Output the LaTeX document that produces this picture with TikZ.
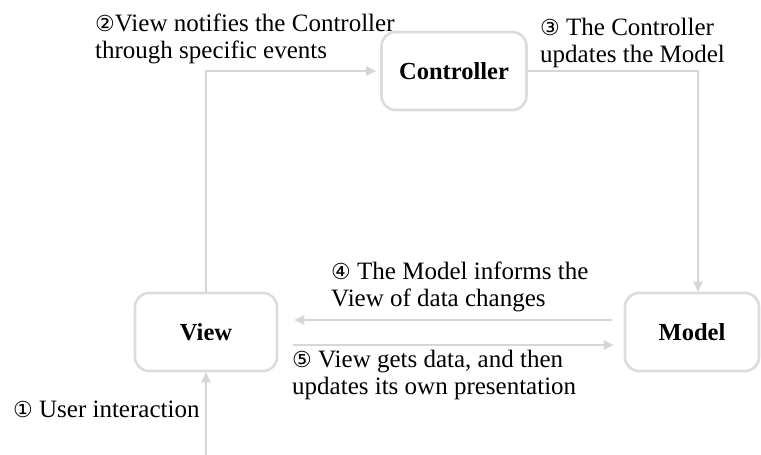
\documentclass[tikz,border=0pt]{standalone}
\usepackage{fontspec}
\setmainfont{Liberation Serif}
\newfontfamily\numfont{DejaVu Sans}
\usetikzlibrary{arrows.meta}
\definecolor{mvcLinea}{RGB}{214,214,214}
\definecolor{mvcBorde}{RGB}{220,220,220}
\newcommand{\paso}[1]{{\numfont\fontsize{22}{22}\selectfont #1}}

\begin{document}
\begin{tikzpicture}[x=1pt, y=-1pt,
     caja/.style={rectangle, rounded corners=14pt, draw=mvcBorde, line width=2.6pt,
                  fill=white, minimum width=142pt, minimum height=78pt,
                  font=\fontsize{24.5}{27}\selectfont\bfseries},
     fl/.style={-{Triangle[length=10pt, width=9pt]}, mvcLinea, line width=1.8pt},
     etiq/.style={anchor=base west, inner sep=0pt, align=left,
                  font=\fontsize{25}{27}\selectfont}]
    \useasboundingbox (0,0) rectangle (761,455);
    \node[caja] (vista) at (206,332) {View};
    \node[caja, minimum width=145pt] (ctrl) at (454,71) {Controller};
    \node[caja, minimum width=134pt] (modelo) at (692,332) {Model};
    \coordinate (usuario) at (206,455);
    \draw[fl] (usuario) -- (vista.south);
    \draw[fl, shorten >=4pt] (vista.north) |- (ctrl.west);
    \draw[fl] (ctrl.east) -| ([xshift=6pt]modelo.north);
    \draw[fl, shorten <=12pt, shorten >=16pt] ([yshift=12pt]modelo.west) -- ([yshift=12pt]vista.east);
    \draw[fl, shorten <=15pt, shorten >=10pt] ([yshift=-13pt]vista.east) -- ([yshift=-13pt]modelo.west);
    \node[etiq] (t1) at (13,417) {\paso{①} User interaction};
    \node[etiq] (t2) at (95,58) {\paso{②}View notifies the Controller\\through specific events};
    \node[etiq] (t3) at (540,62) {\paso{③} The Controller\\updates the Model};
    \node[etiq] (t4) at (331,306) {\paso{④} The Model informs the\\View of data changes};
    \node[etiq] (t5) at (292,394) {\paso{⑤} View gets data, and then\\updates its own presentation};
  \end{tikzpicture}
\end{document}
